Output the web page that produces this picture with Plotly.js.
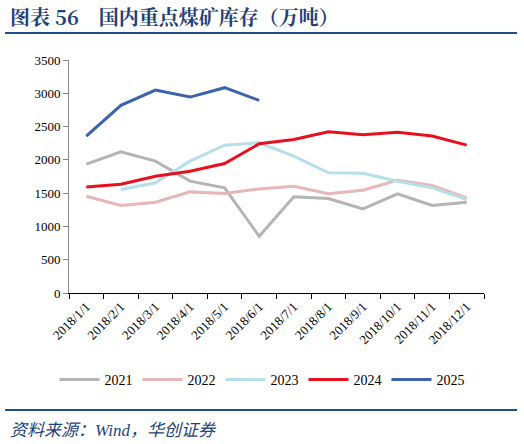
<!DOCTYPE html>
<html><head><meta charset="utf-8">
<script src="https://cdn.plot.ly/plotly-3.0.1.min.js"></script>
<style>body{margin:0;background:#fff}#c{width:524px;height:444px}</style>
</head><body><div id="c"></div>
<script>
const categories = ['2018/1/1','2018/2/1','2018/3/1','2018/4/1','2018/5/1','2018/6/1','2018/7/1','2018/8/1','2018/9/1','2018/10/1','2018/11/1','2018/12/1'];
const seriesNames = ['2021','2022','2023','2024','2025'];
const v2021 = [1935,2121,1981,1680,1579,852,1445,1419,1264,1490,1314,1364];
const v2022 = [1454,1314,1364,1519,1494,1564,1604,1490,1544,1695,1615,1430];
const v2023 = [null,1554,1655,1981,2221,2256,2056,1806,1800,1680,1580,1404];
const v2024 = [1594,1635,1755,1830,1945,2241,2307,2423,2378,2413,2357,2221];
const v2025 = [2357,2818,3048,2943,3084,2893,null,null,null,null,null,null];
const yTicks = [0,500,1000,1500,2000,2500,3000,3500];

const colors = ['#b4b4b4','#e8b6b6','#b6dfea','#e8101e','#3b62ae'];
const values = [v2021,v2022,v2023,v2024,v2025];
const traces = values.map((v,i)=>({
  x: categories, y: v, name: seriesNames[i], type:'scatter', mode:'lines',
  line:{color:colors[i], width:3}, connectgaps:false
}));

const serif = 'Liberation Serif, Times New Roman, serif';
const layout = {
  width:524, height:444,
  margin:{l:69, r:40, t:60, b:151},
  paper_bgcolor:'#fff', plot_bgcolor:'#fff',
  font:{family:serif, size:13, color:'#000'},
  showlegend:true,
  legend:{orientation:'h', x:0.465, xanchor:'center', y:-0.373, yanchor:'middle',
    font:{family:serif, size:14, color:'#000'}, itemwidth:40, tracegroupgap:0},
  xaxis:{type:'category', tickson:'boundaries', ticks:'outside', ticklen:5,
    tickcolor:'#000', showline:true, linecolor:'#000', linewidth:1,
    showgrid:false, zeroline:false, tickangle:-45, tickfont:{size:13, family:serif},
    range:[-0.5,11.5]},
  yaxis:{range:[0,3500], tickvals:yTicks, ticks:'outside', ticklen:5, tickcolor:'#888',
    showline:true, linecolor:'#888', linewidth:1, showgrid:false, zeroline:false,
    tickfont:{size:13, family:serif}},
  shapes:[
    {type:'line', xref:'paper', yref:'paper', x0:-0.154, x1:1.0795, y0:1.116, y1:1.116,
      line:{color:'#1f4e8c', width:2}},
    {type:'line', xref:'paper', yref:'paper', x0:-0.154, x1:1.0795, y0:-0.502, y1:-0.502,
      line:{color:'#1f4e8c', width:2}}
  ],
  annotations:[
    {xref:'paper', yref:'paper', x:-0.147, y:1.185, xanchor:'left', yanchor:'middle',
      showarrow:false, text:'<b>图表 56　国内重点煤矿库存（万吨）</b>',
      font:{family:'Noto Serif CJK SC, Noto Sans CJK SC', size:20, color:'#1f3f7a'}},
    {xref:'paper', yref:'paper', x:-0.147, y:-0.588, xanchor:'left', yanchor:'middle',
      showarrow:false, text:'<i>资料来源：Wind，华创证券</i>',
      font:{family:serif+', Noto Sans CJK SC', size:17, color:'#1f3f7a'}}
  ]
};
Plotly.newPlot('c', traces, layout, {staticPlot:true, displayModeBar:false});
</script></body></html>
